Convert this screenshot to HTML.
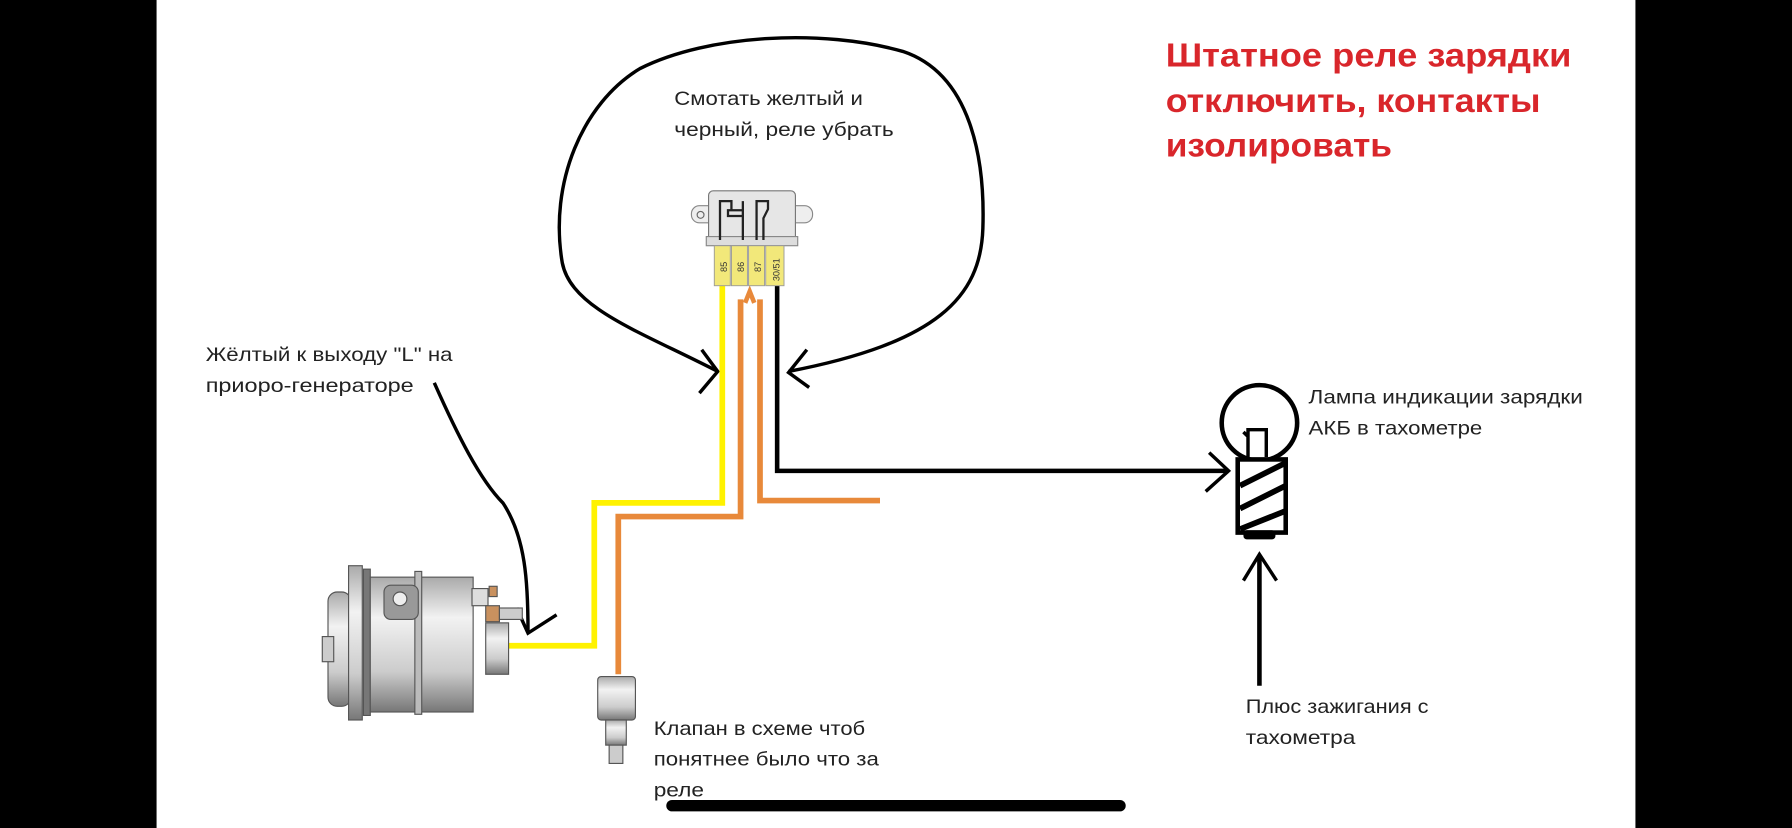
<!DOCTYPE html>
<html><head><meta charset="utf-8"><style>
html,body{margin:0;padding:0;background:#000}
svg{display:block}
text{font-family:"Liberation Sans","DejaVu Sans",sans-serif}
</style></head><body>
<svg width="1792" height="828" viewBox="0 0 1568 724.5" preserveAspectRatio="none" xmlns="http://www.w3.org/2000/svg">
<defs>
<linearGradient id="g" x1="0" y1="0" x2="0" y2="1">
<stop offset="0" stop-color="#aaa"/><stop offset=".3" stop-color="#f2f2f2"/><stop offset=".7" stop-color="#ccc"/><stop offset="1" stop-color="#777"/></linearGradient>
</defs>
<rect x="0" y="0" width="1568" height="725" fill="#000"/>
<rect x="137" y="0" width="1294" height="725" fill="#fff"/>

<!-- red title -->
<g fill="#d9262b" font-weight="bold" font-size="29" lengthAdjust="spacingAndGlyphs">
<text x="1020" y="58" textLength="355" lengthAdjust="spacingAndGlyphs">Штатное реле зарядки</text>
<text x="1020" y="98" textLength="328" lengthAdjust="spacingAndGlyphs">отключить, контакты</text>
<text x="1020" y="137" textLength="198" lengthAdjust="spacingAndGlyphs">изолировать</text>
</g>

<!-- loop -->
<path d="M628,325 C560,290 500,270 492,230 C480,160 510,90 560,60 C620,30 720,25 790,45 C850,65 862,140 860,200 C858,260 820,300 690,325" fill="none" stroke="#000" stroke-width="3"/>
<path d="M614,306 L628,325 L612,344" fill="none" stroke="#000" stroke-width="3"/>
<path d="M706,306 L690,326 L708,339" fill="none" stroke="#000" stroke-width="3"/>

<!-- wires -->
<polyline points="632,250 632,440 520,440 520,565 445,565" fill="none" stroke="#fff200" stroke-width="5"/>
<polyline points="648,262 648,452 541,452 541,590" fill="none" stroke="#e8893a" stroke-width="5"/>
<polyline points="665,262 665,438 770,438" fill="none" stroke="#e8893a" stroke-width="5"/>
<polyline points="652,265 656,255 660,265" fill="none" stroke="#e8893a" stroke-width="4"/>
<polyline points="680,250 680,412 1075,412" fill="none" stroke="#000" stroke-width="4"/>
<path d="M1058,396 L1075,412 L1055,430" fill="none" stroke="#000" stroke-width="3"/>

<!-- relay -->
<rect x="605" y="180" width="106" height="15" rx="7" fill="#eee" stroke="#888"/>
<circle cx="613" cy="188" r="3" fill="none" stroke="#666"/>
<rect x="620" y="167" width="76" height="45" rx="4" fill="#e6e6e6" stroke="#777"/>
<rect x="618" y="207" width="80" height="8" fill="#ddd" stroke="#888"/>
<path d="M630,210 V176 H640 V185 M637,184 h13 v5 h-13z M650,186 V176 M662,210 V176 H672 V183 l-4,8 V210 M650,189 V210" fill="none" stroke="#222" stroke-width="2"/>
<g fill="#f2e87a" stroke="#999" stroke-width=".8">
<rect x="625" y="215" width="14" height="35"/><rect x="640" y="215" width="14" height="35"/><rect x="655" y="215" width="14" height="35"/><rect x="670" y="215" width="16" height="35"/></g>
<g font-size="8" fill="#333">
<text transform="translate(636,238) rotate(-90)">85</text>
<text transform="translate(651,238) rotate(-90)">86</text>
<text transform="translate(666,238) rotate(-90)">87</text>
<text transform="translate(682,246) rotate(-90)">30/51</text>
</g>

<!-- labels -->
<g font-size="17" fill="#222">
<text x="590" y="92" textLength="165" lengthAdjust="spacingAndGlyphs">Смотать желтый и</text>
<text x="590" y="119" textLength="192" lengthAdjust="spacingAndGlyphs">черный, реле убрать</text>
<text x="180" y="316" textLength="216" lengthAdjust="spacingAndGlyphs">Жёлтый к выходу "L" на</text>
<text x="180" y="343" textLength="182" lengthAdjust="spacingAndGlyphs">приоро-генераторе</text>
<text x="1145" y="353" textLength="240" lengthAdjust="spacingAndGlyphs">Лампа индикации зарядки</text>
<text x="1145" y="380" textLength="152" lengthAdjust="spacingAndGlyphs">АКБ в тахометре</text>
<text x="1090" y="624" textLength="160" lengthAdjust="spacingAndGlyphs">Плюс зажигания с</text>
<text x="1090" y="651" textLength="96" lengthAdjust="spacingAndGlyphs">тахометра</text>
<text x="572" y="643" textLength="185" lengthAdjust="spacingAndGlyphs">Клапан в схеме чтоб</text>
<text x="572" y="670" textLength="197" lengthAdjust="spacingAndGlyphs">понятнее было что за</text>
<text x="572" y="697" textLength="44" lengthAdjust="spacingAndGlyphs">реле</text>
</g>

<!-- arrow to generator -->
<path d="M380,335 C400,380 420,420 440,440 C460,470 462,510 462,552" fill="none" stroke="#000" stroke-width="3"/>
<path d="M452,532 L462,554 L487,538" fill="none" stroke="#000" stroke-width="3"/>

<!-- lamp -->
<circle cx="1102" cy="370" r="33" fill="none" stroke="#000" stroke-width="4"/>
<path d="M1092,400 V376 H1108 V400 M1092,382 l-4,-4" fill="none" stroke="#000" stroke-width="3"/>
<rect x="1083" y="402" width="42" height="64" fill="#fff" stroke="#000" stroke-width="4"/>
<path d="M1085,425 L1125,405 M1085,445 L1125,425 M1085,463 L1125,447" stroke="#000" stroke-width="5"/>
<rect x="1088" y="464" width="28" height="8" rx="3" fill="#000"/>
<line x1="1102" y1="600" x2="1102" y2="487" stroke="#000" stroke-width="4"/>
<path d="M1088,508 L1102,485 L1117,508" fill="none" stroke="#000" stroke-width="3"/>

<!-- generator -->
<g stroke="#555" stroke-width="1">
<rect x="287" y="518" width="20" height="100" rx="8" fill="url(#g)"/>
<rect x="282" y="557" width="10" height="22" fill="#ccc"/>
<rect x="305" y="495" width="12" height="135" fill="url(#g)"/>
<rect x="318" y="498" width="6" height="128" fill="#777"/>
<rect x="324" y="505" width="90" height="118" fill="url(#g)"/>
<rect x="363" y="500" width="6" height="125" fill="#bbb"/>
<rect x="336" y="512" width="30" height="30" rx="6" fill="#999"/>
<circle cx="350" cy="524" r="6" fill="#eee"/>
<rect x="413" y="515" width="14" height="15" fill="#ddd"/>
<rect x="425" y="530" width="12" height="14" fill="#c9915f"/>
<rect x="437" y="532" width="20" height="10" fill="#ccc"/>
<rect x="425" y="545" width="20" height="45" fill="url(#g)"/>
<rect x="428" y="513" width="7" height="9" fill="#c9915f"/>
</g>

<!-- valve -->
<g stroke="#555">
<rect x="523" y="592" width="33" height="38" rx="3" fill="url(#g)"/>
<rect x="530" y="630" width="18" height="22" fill="url(#g)"/>
<rect x="533" y="652" width="12" height="16" fill="#ccc"/>
</g>

<!-- bottom bar -->
<line x1="588" y1="705" x2="980" y2="705" stroke="#000" stroke-width="10" stroke-linecap="round"/>
</svg>
</body></html>
